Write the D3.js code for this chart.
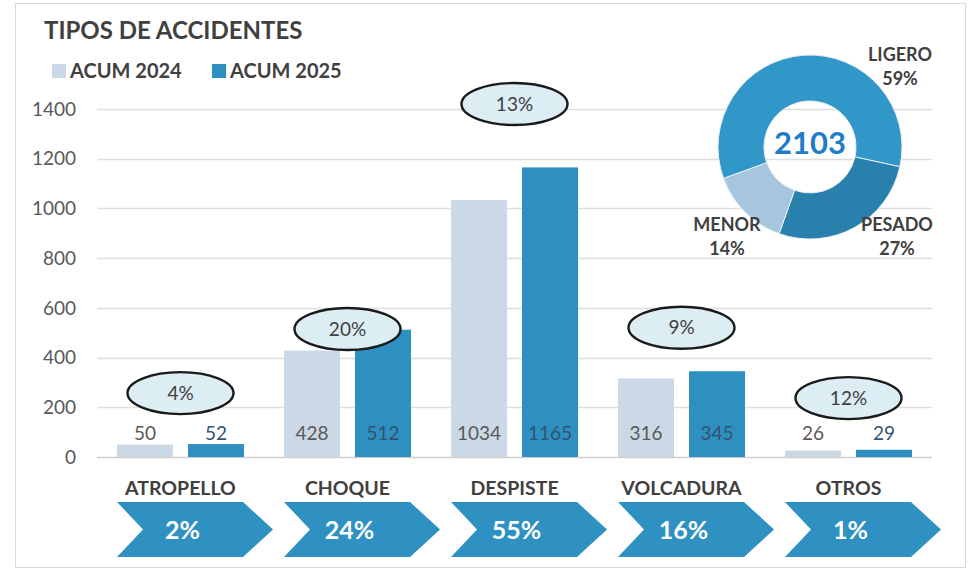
<!DOCTYPE html>
<html>
<head>
<meta charset="utf-8">
<script src="https://cdn.jsdelivr.net/npm/d3@7"></script>
<style>
  body { margin: 0; background: #fff; }
  svg { display: block; font-family: 'Lato', 'Open Sans', sans-serif; }
</style>
</head>
<body>
<div id="chart"></div>
<script>
const categories = ["ATROPELLO", "CHOQUE", "DESPISTE", "VOLCADURA", "OTROS"];
const seriesNames = ["ACUM 2024", "ACUM 2025"];
const acum2024 = [50, 428, 1034, 316, 26];
const acum2025 = [52, 512, 1165, 345, 29];
const yTicks = [0, 200, 400, 600, 800, 1000, 1200, 1400];
const bubbleLevels = [257, 515, 1420, 520, 237]; // where each growth bubble sits, in axis units
const donutNames = ["LIGERO", "PESADO", "MENOR"];
const donutShares = [59, 27, 14];

const COLOR_2024 = "#cbd9e6",
    COLOR_2025 = "#2e90c0",
    TEXT_DARK = "#404040",
    TEXT_GRAY = "#595959";

var width = 971, height = 570;

var svg = d3.select("#chart").append("svg")
    .attr("width", width)
    .attr("height", height);

// outer frame
svg.append("rect")
    .attr("x", 15.5).attr("y", 3.5)
    .attr("width", 950).attr("height", 564)
    .attr("fill", "#fff")
    .attr("stroke", "#d9d9d9");

var y = d3.scaleLinear().domain([0, 1400]).range([457, 109]);

var x0 = d3.scaleBand().domain(categories).range([97, 932]);

var x1 = d3.scaleBand().domain(seriesNames)
    .range([0, x0.bandwidth()])
    .paddingInner(0.211)
    .paddingOuter(0.2815);

var colorScale = d3.scaleOrdinal().domain(seriesNames).range([COLOR_2024, COLOR_2025]);

// gridlines + tick labels
var grid = svg.append("g");
grid.selectAll("line")
    .data(yTicks)
    .enter().append("line")
    .attr("x1", 97).attr("x2", 932)
    .attr("y1", d => Math.round(y(d)) + 0.5)
    .attr("y2", d => Math.round(y(d)) + 0.5)
    .attr("stroke", d => d === 0 ? "#cfcfcf" : "#dedede")
    .attr("stroke-width", 1.3);

grid.selectAll("text")
    .data(yTicks)
    .enter().append("text")
    .attr("x", 76)
    .attr("y", d => y(d))
    .attr("dy", "0.35em")
    .attr("text-anchor", "end")
    .attr("fill", TEXT_GRAY)
    .style("font-size", "19px")
    .text(d => d);

// bars
var rows = categories.map((c, i) => ({ cat: c, values: [acum2024[i], acum2025[i]] }));

var groups = svg.append("g").selectAll("g")
    .data(rows)
    .enter().append("g")
    .attr("transform", d => "translate(" + x0(d.cat) + ",0)");

groups.selectAll("rect")
    .data(d => d.values.map((v, j) => ({ key: seriesNames[j], value: v })))
    .enter().append("rect")
    .attr("x", d => x1(d.key))
    .attr("width", x1.bandwidth())
    .attr("y", d => y(d.value))
    .attr("height", d => y(0) - y(d.value))
    .attr("fill", d => colorScale(d.key));

groups.selectAll("text.val")
    .data(d => d.values.map((v, j) => ({ key: seriesNames[j], value: v })))
    .enter().append("text")
    .attr("class", "val")
    .attr("x", d => x1(d.key) + x1.bandwidth() / 2)
    .attr("y", 433)
    .attr("dy", "0.35em")
    .attr("text-anchor", "middle")
    .attr("fill", d => d.key === "ACUM 2025" ? "#33536f" : TEXT_GRAY)
    .style("font-size", "19px")
    .text(d => d.value);

// growth bubbles
var bubbles = svg.append("g").selectAll("g")
    .data(rows)
    .enter().append("g")
    .attr("transform", (d, i) => "translate(" + (x0(d.cat) + x0.bandwidth() / 2) + "," + y(bubbleLevels[i]) + ")");

bubbles.append("ellipse")
    .attr("rx", 53)
    .attr("ry", 21)
    .attr("fill", "#dcedf3")
    .attr("stroke", "#1a1a1a")
    .attr("stroke-width", 2.4);

bubbles.append("text")
    .attr("dy", "0.35em")
    .attr("text-anchor", "middle")
    .attr("fill", TEXT_DARK)
    .style("font-size", "19px")
    .text(d => Math.round((d.values[1] / d.values[0] - 1) * 100) + "%");

// category labels + chevrons
var total2025 = d3.sum(acum2025);

var chev = svg.append("g").selectAll("g")
    .data(rows)
    .enter().append("g")
    .attr("transform", d => "translate(" + x0(d.cat) + ",0)");

chev.append("text")
    .attr("x", x0.bandwidth() / 2)
    .attr("y", 495)
    .attr("text-anchor", "middle")
    .attr("fill", TEXT_DARK)
    .style("font-size", "19.5px")
    .style("font-weight", "bold")
    .text(d => d.cat);

chev.append("path")
    .attr("d", function () {
        var l = 20, w = 156, top = 502, bot = 557, mid = (top + bot) / 2, notch = 26, tip = 30;
        return "M" + l + "," + top + "L" + (l + w - tip) + "," + top + "L" + (l + w) + "," + mid +
            "L" + (l + w - tip) + "," + bot + "L" + l + "," + bot + "L" + (l + notch) + "," + mid + "Z";
    })
    .attr("fill", "#2e91c1");

chev.append("text")
    .attr("x", x0.bandwidth() / 2 + 2)
    .attr("y", 530)
    .attr("dy", "0.35em")
    .attr("text-anchor", "middle")
    .attr("fill", "#fff")
    .style("font-size", "25px")
    .style("font-weight", "bold")
    .text(d => Math.round(d.values[1] / total2025 * 100) + "%");

// title + legend
svg.append("text")
    .attr("x", 44).attr("y", 39)
    .attr("fill", TEXT_DARK)
    .style("font-size", "24px")
    .style("font-weight", "bold")
    .text("TIPOS DE ACCIDENTES");

var legend = svg.append("g").selectAll("g")
    .data(seriesNames)
    .enter().append("g")
    .attr("transform", (d, i) => "translate(" + (52 + i * 160) + ",64)");

legend.append("rect")
    .attr("width", 14).attr("height", 14)
    .attr("fill", d => colorScale(d));

legend.append("text")
    .attr("x", 18).attr("y", 7)
    .attr("dy", "0.35em")
    .attr("fill", TEXT_DARK)
    .style("font-size", "20px")
    .style("font-weight", "bold")
    .text(d => d);

// donut
var donutColors = ["#3196c8", "#2a80ad", "#a6c5de"];

var pie = d3.pie().sort(null)
    .startAngle(-110 / 180 * Math.PI)
    .endAngle(-110 / 180 * Math.PI + 2 * Math.PI);

var arc = d3.arc().innerRadius(46).outerRadius(92);

var donut = svg.append("g").attr("transform", "translate(810,147)");

donut.selectAll("path")
    .data(pie(donutShares))
    .enter().append("path")
    .attr("d", arc)
    .attr("fill", (d, i) => donutColors[i])
    .attr("stroke", "#e8eef3")
    .attr("stroke-width", 1);

donut.append("text")
    .attr("y", -4)
    .attr("dy", "0.35em")
    .attr("text-anchor", "middle")
    .attr("fill", "#1f7cc6")
    .style("font-size", "31px")
    .style("font-weight", "bold")
    .text(total2025);

var labelSpots = [[90, -92], [87, 78], [-83, 78]];

var dl = donut.selectAll("g.dl")
    .data(donutNames)
    .enter().append("g")
    .attr("class", "dl")
    .attr("transform", (d, i) => "translate(" + labelSpots[i][0] + "," + labelSpots[i][1] + ")");

dl.append("text")
    .attr("text-anchor", "middle")
    .attr("dy", "0.35em")
    .attr("fill", TEXT_DARK)
    .style("font-size", "18px")
    .style("font-weight", "bold")
    .text(d => d);

dl.append("text")
    .attr("text-anchor", "middle")
    .attr("y", 24)
    .attr("dy", "0.35em")
    .attr("fill", TEXT_DARK)
    .style("font-size", "18px")
    .style("font-weight", "bold")
    .text((d, i) => donutShares[i] + "%");
</script>
</body>
</html>
